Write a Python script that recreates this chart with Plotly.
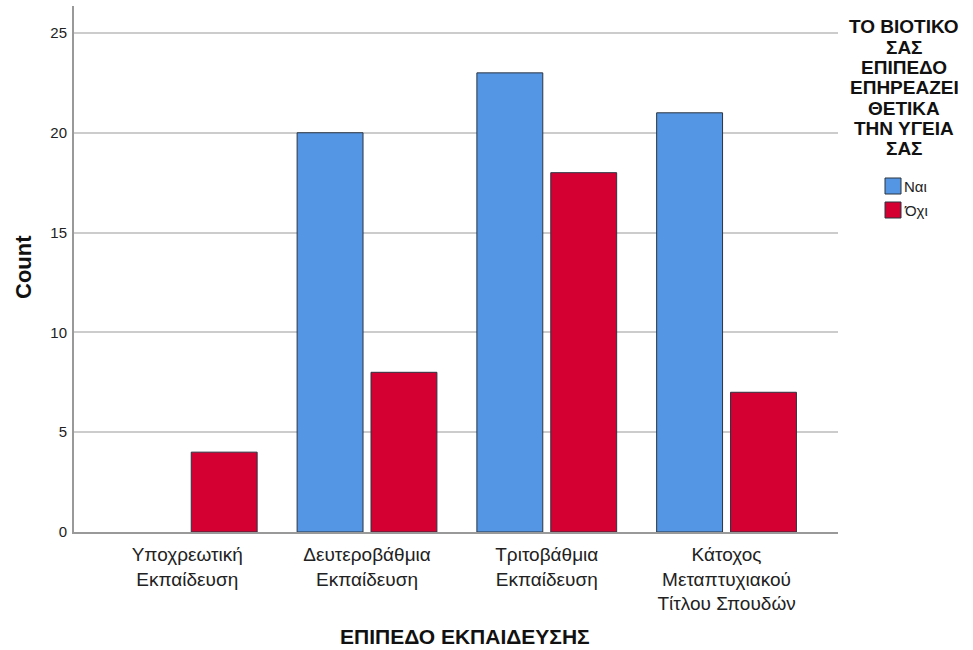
import plotly.graph_objects as go

categories = ["Υποχρεωτική<br>Εκπαίδευση", "Δευτεροβάθμια<br>Εκπαίδευση",
              "Τριτοβάθμια<br>Εκπαίδευση", "Κάτοχος<br>Μεταπτυχιακού<br>Τίτλου Σπουδών"]
yes_counts = [0, 20, 23, 21]
no_counts = [4, 8, 18, 7]
series_names = ["Ναι", "Όχι"]
colors = ["#5596E4", "#D50032"]
legend_title_lines = ["ΤΟ ΒΙΟΤΙΚΟ", "ΣΑΣ", "ΕΠΙΠΕΔΟ", "ΕΠΗΡΕΑΖΕΙ", "ΘΕΤΙΚΑ", "ΤΗΝ ΥΓΕΙΑ", "ΣΑΣ"]
y_ticks = [0, 5, 10, 15, 20, 25]
x_title = "ΕΠΙΠΕΔΟ ΕΚΠΑΙΔΕΥΣΗΣ"
y_title = "Count"

FONT = "Liberation Sans, Arial, sans-serif"
W, H = 973, 650
ML, MR, MT, MB = 74, 135, 6, 118
PW, PH = W - ML - MR, H - MT - MB


def px_x(px):
    return (px - ML) / PW


def px_y(py):
    return 1 - (py - MT) / PH


fig = go.Figure()
for name, vals, col in zip(series_names, [yes_counts, no_counts], colors):
    fig.add_trace(go.Bar(
        x=list(range(len(categories))), y=vals, name=name,
        marker=dict(color=col,
                    line=dict(color="#2b3440", width=[1 if v else 0 for v in vals])),
        showlegend=False, hoverinfo="skip",
    ))

fig.update_layout(
    barmode="group", bargap=0.178, bargroupgap=0.108,
    width=W, height=H,
    margin=dict(l=ML, r=MR, t=MT, b=MB),
    plot_bgcolor="white", paper_bgcolor="white",
    font=dict(family=FONT, color="#222222"),
    xaxis=dict(
        range=[-0.63, 3.62], tickmode="array",
        tickvals=list(range(len(categories))), ticktext=categories,
        showgrid=False, showline=True, linecolor="#999999", linewidth=2,
        ticks="", ticklabelstandoff=4, tickfont=dict(size=19, color="#222222"),
        zeroline=False, automargin=False,
    ),
    yaxis=dict(
        range=[0, 26.35], tickmode="array", tickvals=y_ticks,
        showgrid=True, gridcolor="#cccccc", gridwidth=1.5,
        showline=True, linecolor="#999999", linewidth=2,
        ticks="", ticklabelstandoff=2, tickfont=dict(size=15, color="#222222"),
        zeroline=False, automargin=False,
    ),
)

# Axis titles
fig.add_annotation(xref="paper", yref="paper", x=px_x(465), y=px_y(636),
                   xanchor="center", yanchor="middle", text="<b>" + x_title + "</b>",
                   showarrow=False, font=dict(size=21, color="#111111", family=FONT))
fig.add_annotation(xref="paper", yref="paper", x=px_x(23), y=px_y(267),
                   xanchor="center", yanchor="middle", text="<b>" + y_title + "</b>",
                   textangle=-90, showarrow=False,
                   font=dict(size=22, color="#111111", family=FONT))

# Legend title, one line per annotation for the tight line spacing
for i, line in enumerate(legend_title_lines):
    fig.add_annotation(
        xref="paper", yref="paper", x=px_x(904), y=px_y(27 + 20.3 * i),
        xanchor="center", yanchor="middle", text="<b>" + line + "</b>",
        showarrow=False, font=dict(size=19, color="#111111", family=FONT),
    )

legend_y = [186, 210]
for name, col, py in zip(series_names, colors, legend_y):
    fig.add_shape(type="rect", xref="paper", yref="paper",
                  x0=px_x(885), x1=px_x(901), y0=px_y(py + 8), y1=px_y(py - 8),
                  fillcolor=col, line=dict(color="#2b3440", width=1))
    fig.add_annotation(xref="paper", yref="paper", x=px_x(902), y=px_y(py),
                       xanchor="left", yanchor="middle", text=name, showarrow=False,
                       font=dict(size=15, color="#222222", family=FONT))

fig.write_html("out.html", config={"displayModeBar": False},
               post_script="document.body.style.margin='0';")
